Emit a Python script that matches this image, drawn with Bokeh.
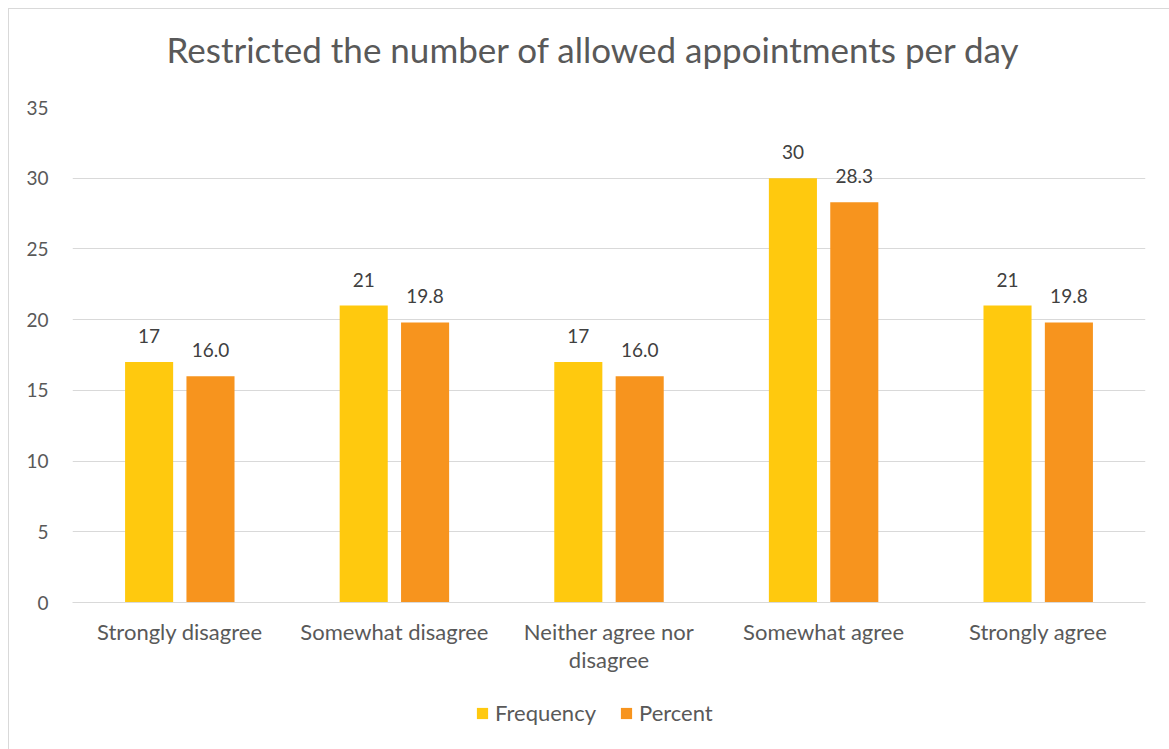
from bokeh.plotting import figure
from bokeh.models import (FactorRange, Range1d, ColumnDataSource, Legend, LegendItem,
                          FixedTicker, Title)
from bokeh.layouts import column
from bokeh.transform import dodge
from bokeh.core.properties import value
from bokeh.embed import file_html
from bokeh.resources import INLINE

categories = ["Strongly disagree", "Somewhat disagree", "Neither agree nor\ndisagree",
              "Somewhat agree", "Strongly agree"]
frequency = [17, 21, 17, 30, 21]
percent = [16.0, 19.8, 16.0, 28.3, 19.8]
y_ticks = [0, 5, 10, 15, 20, 25, 30, 35]
series_names = ["Frequency", "Percent"]

FONT = "Lato"
C_FREQ = "#FFC90E"
C_PCT = "#F7941E"
GRID = "#D9D9D9"
TXT = "#595959"

src = ColumnDataSource(dict(
    cat=categories,
    freq=frequency,
    pct=percent,
    freq_lbl=[str(v) for v in frequency],
    pct_lbl=[f"{v:.1f}" for v in percent],
))

W = 1160
p = figure(width=W, height=685, x_range=FactorRange(*categories),
           y_range=Range1d(0, 35), output_backend="svg", toolbar_location=None,
           min_border_left=63, min_border_right=24, min_border_top=98,
           min_border_bottom=92)

# spacer between the title and the plot frame
p.add_layout(Title(text=" ", text_font_size="10px", standoff=25), "above")

p.title.text = "Restricted the number of allowed appointments per day"
p.title.align = "left"
p.title.offset = 94
p.title.text_font = FONT
p.title.text_font_size = "35px"
p.title.text_font_style = "normal"
p.title.text_color = TXT
p.title.standoff = 0

p.vbar(x=dodge("cat", -0.143, range=p.x_range), top="freq", width=0.224,
       source=src, fill_color=C_FREQ, line_color=None)
p.vbar(x=dodge("cat", 0.143, range=p.x_range), top="pct", width=0.224,
       source=src, fill_color=C_PCT, line_color=None)

for col, off in (("freq", -0.143), ("pct", 0.143)):
    p.text(x=dodge("cat", off, range=p.x_range), y=col, text=col + "_lbl", source=src,
           text_align="center", text_baseline="alphabetic", y_offset=-26,
           text_font=value(FONT), text_font_size="19px", text_color="#404040")

p.outline_line_color = None
p.background_fill_color = "white"
p.border_fill_color = "white"

p.xgrid.grid_line_color = None
p.ygrid.grid_line_color = GRID
p.ygrid.grid_line_width = 1

p.yaxis.ticker = FixedTicker(ticks=y_ticks)
p.yaxis.axis_line_color = None
p.yaxis.major_tick_line_color = None
p.yaxis.minor_tick_line_color = None
p.yaxis.major_tick_out = 0
p.yaxis.major_tick_in = 0
p.yaxis.major_label_standoff = 24
p.yaxis.major_label_text_font = FONT
p.yaxis.major_label_text_font_size = "19px"
p.yaxis.major_label_text_color = TXT

p.xaxis.axis_line_color = GRID
p.xaxis.axis_line_width = 1
p.xaxis.major_tick_line_color = None
p.xaxis.minor_tick_line_color = None
p.xaxis.major_tick_out = 0
p.xaxis.major_tick_in = 0
p.xaxis.major_label_standoff = 15
p.xaxis.major_label_text_font = FONT
p.xaxis.major_label_text_font_size = "22px"
p.xaxis.major_label_text_line_height = 1.05
p.xaxis.major_label_text_color = TXT

# legend strip below the chart (hidden proxy renderers supply the legend swatches)
lp = figure(width=W, height=55, x_range=Range1d(0, 1), y_range=Range1d(0, 1),
            output_backend="svg", toolbar_location=None,
            x_axis_type=None, y_axis_type=None, min_border=0)
lp.outline_line_color = None
lp.xgrid.grid_line_color = None
lp.ygrid.grid_line_color = None
g1 = lp.vbar(x="freq", top="freq", width=0.1, source=src,
             fill_color=C_FREQ, line_color=None, visible=False)
g2 = lp.vbar(x="pct", top="pct", width=0.1, source=src,
             fill_color=C_PCT, line_color=None, visible=False)
legend = Legend(items=[LegendItem(label=series_names[0], renderers=[g1]),
                       LegendItem(label=series_names[1], renderers=[g2])],
                orientation="horizontal", location=(403, 23),
                glyph_width=14, glyph_height=14, label_standoff=6, spacing=23,
                padding=0, margin=0, border_line_color=None,
                background_fill_alpha=0, inactive_fill_alpha=0,
                label_text_font=FONT, label_text_font_size="22px",
                label_text_color=TXT, label_height=20)
lp.add_layout(legend, "center")

layout = column(p, lp, spacing=0)
layout.styles = {"margin-left": "8px", "margin-top": "8px",
                 "border-left": "1px solid #D9D9D9", "border-top": "1px solid #D9D9D9"}

open("out.html", "w").write(file_html(layout, INLINE))
